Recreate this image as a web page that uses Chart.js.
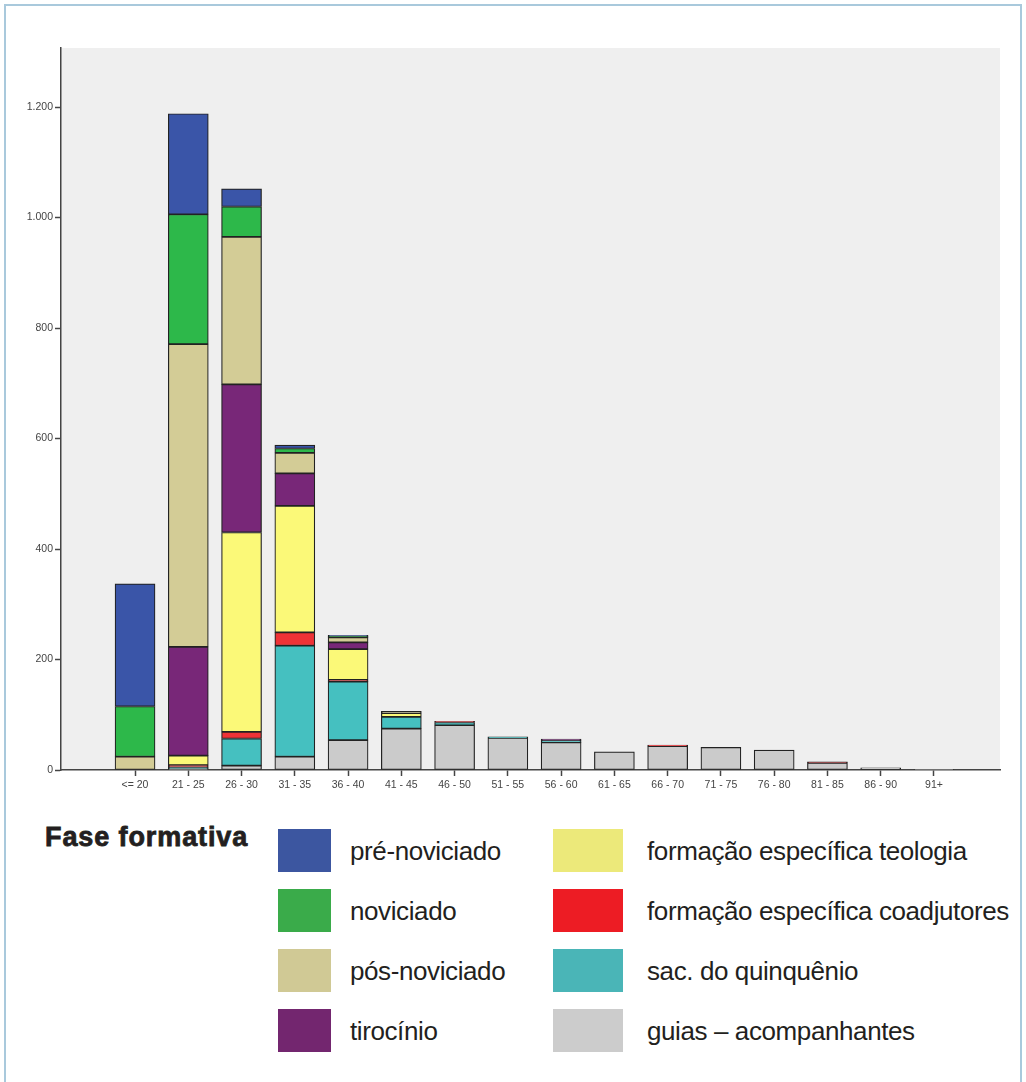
<!DOCTYPE html>
<html>
<head>
<meta charset="utf-8">
<script src="https://cdn.jsdelivr.net/npm/chart.js@4"></script>
<style>
  html, body { margin: 0; padding: 0; background: #fff; }
  #page { position: relative; width: 1026px; height: 1082px; overflow: hidden; }
  #frame { position: absolute; left: 4px; top: 4px; width: 1018px; height: 1090px;
           border: 2px solid #a9c9dc; box-sizing: border-box; }
  #chartBox { position: absolute; left: 0; top: 0; width: 1026px; height: 810px; }
  #legendTitle { position: absolute; left: 45px; top: 822px; font-family: "Liberation Sans", Arial, sans-serif;
                 font-weight: bold; font-size: 27px; letter-spacing: 0.9px; color: #231f20;
                 -webkit-text-stroke: 0.8px #231f20; }
  .item { position: absolute; height: 43px; }
  .sw { position: absolute; top: 0; height: 43px; }
  .lbl { position: absolute; top: 6px; white-space: nowrap; font-family: "Liberation Sans", Arial, sans-serif;
         font-size: 26px; letter-spacing: -0.4px; color: #231f20; line-height: 32px; }
</style>
</head>
<body>
<div id="page">
  <div id="frame"></div>
  <div id="chartBox"><canvas id="bars" width="1026" height="810"></canvas></div>
  <div id="legendTitle">Fase formativa</div>
  <div id="legend"></div>
</div>
<script>
// age groups
const categories = ['<= 20', '21 - 25', '26 - 30', '31 - 35', '36 - 40', '41 - 45', '46 - 50', '51 - 55',
                    '56 - 60', '61 - 65', '66 - 70', '71 - 75', '76 - 80', '81 - 85', '86 - 90', '91+'];

// counts per phase (bottom of stack first)
const guias     = [0, 2, 8, 24, 54, 75, 81, 58, 50, 33, 43, 41, 36, 13, 4, 1];
const sacQuinq  = [0, 3, 49, 201, 106, 21, 5, 2, 3, 0, 0, 0, 0, 0, 0, 0];
const coadj     = [0, 4, 12, 24, 3, 0, 2, 0, 0, 0, 2, 0, 0, 2, 0, 0];
const teologia  = [0, 17, 361, 229, 56, 7, 0, 0, 0, 0, 0, 0, 0, 0, 0, 0];
const tirocinio = [0, 197, 268, 59, 12, 0, 0, 0, 3, 0, 0, 0, 0, 0, 0, 0];
const posNov    = [24, 548, 267, 37, 9, 3, 0, 0, 0, 0, 0, 0, 0, 0, 0, 0];
const noviciado = [91, 235, 55, 8, 2, 0, 0, 0, 0, 0, 0, 0, 0, 0, 0, 0];
const preNov    = [222, 182, 32, 6, 2, 0, 0, 0, 0, 0, 0, 0, 0, 0, 0, 0];

const yTicks = [0, 200, 400, 600, 800, 1000, 1200];
const yTickLabels = ['0', '200', '400', '600', '800', '1.000', '1.200'];

const series = [
    { label: 'guias – acompanhantes', data: guias, color: '#cbcbcb', key: '#cccccc' },
    { label: 'sac. do quinquênio', data: sacQuinq, color: '#45c0c0', key: '#4ab5b7' },
    { label: 'formação específica coadjutores', data: coadj, color: '#ee3236', key: '#ed1c24' },
    { label: 'formação específica teologia', data: teologia, color: '#fbf978', key: '#ece97a' },
    { label: 'tirocínio', data: tirocinio, color: '#782778', key: '#73266f' },
    { label: 'pós-noviciado', data: posNov, color: '#d3cc96', key: '#d0c995' },
    { label: 'noviciado', data: noviciado, color: '#2db84a', key: '#3aab4a' },
    { label: 'pré-noviciado', data: preNov, color: '#3a55a8', key: '#3c56a0' }
];

// legend order: left column top→bottom, then right column
const legendOrder = ['pré-noviciado', 'noviciado', 'pós-noviciado', 'tirocínio',
                     'formação específica teologia', 'formação específica coadjutores',
                     'sac. do quinquênio', 'guias – acompanhantes'];

const legend = document.getElementById('legend');
legendOrder.forEach((name, i) => {
    const s = series.find(d => d.label === name);
    const col = i < 4 ? 0 : 1;
    const row = i % 4;
    const item = document.createElement('div');
    item.className = 'item';
    item.style.left = (col === 0 ? 278 : 553) + 'px';
    item.style.top = (829 + row * 60) + 'px';
    const sw = document.createElement('div');
    sw.className = 'sw';
    sw.style.width = (col === 0 ? 53 : 70) + 'px';
    sw.style.background = s.key;
    const lbl = document.createElement('div');
    lbl.className = 'lbl';
    lbl.style.left = (col === 0 ? 72 : 94) + 'px';
    lbl.textContent = s.label;
    item.appendChild(sw);
    item.appendChild(lbl);
    legend.appendChild(item);
});

const plotBg = {
    id: 'plotBg',
    beforeDraw(chart) {
        const a = chart.chartArea;
        const ctx = chart.ctx;
        ctx.save();
        ctx.fillStyle = '#efefef';
        ctx.fillRect(a.left, a.top, a.right - a.left, a.bottom - a.top);
        ctx.restore();
    }
};

new Chart(document.getElementById('bars'), {
    type: 'bar',
    data: {
        datasets: series.map(s => ({
            label: s.label,
            data: s.data.map((v, i) => ({ x: i, y: v === 0 ? null : v })),
            backgroundColor: s.color,
            borderColor: '#222',
            borderWidth: 1.2,
            borderSkipped: false,
            barThickness: 40
        }))
    },
    options: {
        responsive: false,
        animation: false,
        layout: { padding: { left: 0, top: 48, right: 26, bottom: 0 } },
        plugins: { legend: { display: false }, tooltip: { enabled: false } },
        scales: {
            x: {
                type: 'linear',
                stacked: true,
                offset: false,
                min: -1.39,
                max: 16.24,
                afterBuildTicks: axis => { axis.ticks = categories.map((c, i) => ({ value: i })); },
                afterFit: axis => { axis.height = 40; },
                ticks: {
                    callback: v => categories[v],
                    autoSkip: false,
                    maxRotation: 0,
                    padding: 3,
                    color: '#444',
                    font: { family: 'Liberation Sans, Arial, sans-serif', size: 10.5 }
                },
                grid: { drawOnChartArea: false, offset: false, tickLength: 6, color: '#444', tickWidth: 1.5 },
                border: { color: '#444', width: 1.5 }
            },
            y: {
                stacked: true,
                min: 0,
                max: 1307,
                afterBuildTicks: axis => { axis.ticks = yTicks.map(v => ({ value: v })); },
                afterFit: axis => { axis.width = 61; },
                ticks: {
                    callback: v => yTickLabels[yTicks.indexOf(v)],
                    padding: 2,
                    color: '#444',
                    font: { family: 'Liberation Sans, Arial, sans-serif', size: 10.5 }
                },
                grid: { drawOnChartArea: false, tickLength: 6, color: '#444', tickWidth: 1.5 },
                border: { color: '#444', width: 1.5 }
            }
        }
    },
    plugins: [plotBg]
});
</script>
</body>
</html>
